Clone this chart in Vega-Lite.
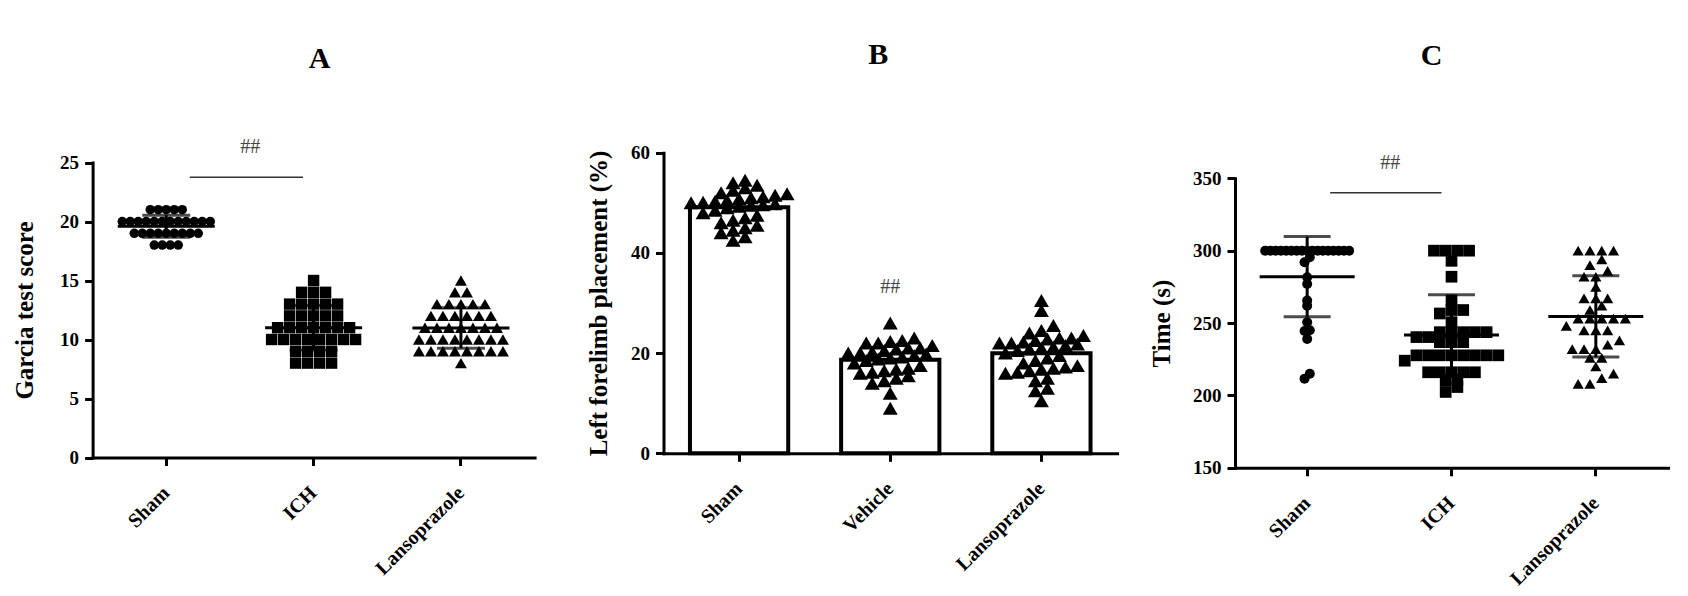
{
  "$schema": "https://vega.github.io/schema/vega-lite/v6.json",
  "width": 1688,
  "height": 596,
  "autosize": {"type": "none"},
  "padding": 0,
  "background": "white",
  "config": {
    "view": {"stroke": null},
    "font": "Liberation Serif",
    "axis": {
      "grid": false,
      "domainColor": "black",
      "domainWidth": 3,
      "domainCap": "square",
      "tickColor": "black",
      "tickWidth": 3,
      "tickSize": 8,
      "labelFont": "Liberation Serif",
      "labelFontWeight": "bold",
      "labelFontSize": 19,
      "labelColor": "black",
      "labelPadding": 6,
      "titleFont": "Liberation Serif",
      "titleFontWeight": "bold",
      "titleFontSize": 25,
      "titleColor": "black"
    },
    "axisX": {
      "labelAngle": -45,
      "labelAlign": "right",
      "labelBaseline": "middle",
      "labelPadding": 24,
      "labelFontSize": 20,
      "labelOverlap": false
    }
  },
  "datasets": {
    "garcia": [
      {"g": "Sham", "v": 18}, {"g": "Sham", "v": 18}, {"g": "Sham", "v": 18}, {"g": "Sham", "v": 18},
      {"g": "Sham", "v": 19}, {"g": "Sham", "v": 19}, {"g": "Sham", "v": 19}, {"g": "Sham", "v": 19}, {"g": "Sham", "v": 19},
      {"g": "Sham", "v": 19}, {"g": "Sham", "v": 19}, {"g": "Sham", "v": 19}, {"g": "Sham", "v": 19},
      {"g": "Sham", "v": 20}, {"g": "Sham", "v": 20}, {"g": "Sham", "v": 20}, {"g": "Sham", "v": 20}, {"g": "Sham", "v": 20}, {"g": "Sham", "v": 20},
      {"g": "Sham", "v": 20}, {"g": "Sham", "v": 20}, {"g": "Sham", "v": 20}, {"g": "Sham", "v": 20}, {"g": "Sham", "v": 20}, {"g": "Sham", "v": 20},
      {"g": "Sham", "v": 21}, {"g": "Sham", "v": 21}, {"g": "Sham", "v": 21}, {"g": "Sham", "v": 21}, {"g": "Sham", "v": 21},
      {"g": "ICH", "v": 15},
      {"g": "ICH", "v": 14}, {"g": "ICH", "v": 14}, {"g": "ICH", "v": 14},
      {"g": "ICH", "v": 13}, {"g": "ICH", "v": 13}, {"g": "ICH", "v": 13}, {"g": "ICH", "v": 13}, {"g": "ICH", "v": 13},
      {"g": "ICH", "v": 12}, {"g": "ICH", "v": 12}, {"g": "ICH", "v": 12}, {"g": "ICH", "v": 12}, {"g": "ICH", "v": 12},
      {"g": "ICH", "v": 11}, {"g": "ICH", "v": 11}, {"g": "ICH", "v": 11}, {"g": "ICH", "v": 11}, {"g": "ICH", "v": 11}, {"g": "ICH", "v": 11}, {"g": "ICH", "v": 11},
      {"g": "ICH", "v": 10}, {"g": "ICH", "v": 10}, {"g": "ICH", "v": 10}, {"g": "ICH", "v": 10}, {"g": "ICH", "v": 10}, {"g": "ICH", "v": 10}, {"g": "ICH", "v": 10}, {"g": "ICH", "v": 10},
      {"g": "ICH", "v": 9}, {"g": "ICH", "v": 9}, {"g": "ICH", "v": 9}, {"g": "ICH", "v": 9},
      {"g": "ICH", "v": 8}, {"g": "ICH", "v": 8}, {"g": "ICH", "v": 8}, {"g": "ICH", "v": 8},
      {"g": "Lansoprazole", "v": 15},
      {"g": "Lansoprazole", "v": 14}, {"g": "Lansoprazole", "v": 14},
      {"g": "Lansoprazole", "v": 13}, {"g": "Lansoprazole", "v": 13}, {"g": "Lansoprazole", "v": 13}, {"g": "Lansoprazole", "v": 13}, {"g": "Lansoprazole", "v": 13},
      {"g": "Lansoprazole", "v": 12}, {"g": "Lansoprazole", "v": 12}, {"g": "Lansoprazole", "v": 12}, {"g": "Lansoprazole", "v": 12}, {"g": "Lansoprazole", "v": 12}, {"g": "Lansoprazole", "v": 12},
      {"g": "Lansoprazole", "v": 11}, {"g": "Lansoprazole", "v": 11}, {"g": "Lansoprazole", "v": 11}, {"g": "Lansoprazole", "v": 11}, {"g": "Lansoprazole", "v": 11}, {"g": "Lansoprazole", "v": 11}, {"g": "Lansoprazole", "v": 11},
      {"g": "Lansoprazole", "v": 10}, {"g": "Lansoprazole", "v": 10}, {"g": "Lansoprazole", "v": 10}, {"g": "Lansoprazole", "v": 10}, {"g": "Lansoprazole", "v": 10}, {"g": "Lansoprazole", "v": 10}, {"g": "Lansoprazole", "v": 10}, {"g": "Lansoprazole", "v": 10},
      {"g": "Lansoprazole", "v": 9}, {"g": "Lansoprazole", "v": 9}, {"g": "Lansoprazole", "v": 9}, {"g": "Lansoprazole", "v": 9}, {"g": "Lansoprazole", "v": 9}, {"g": "Lansoprazole", "v": 9}, {"g": "Lansoprazole", "v": 9}, {"g": "Lansoprazole", "v": 9},
      {"g": "Lansoprazole", "v": 8}
    ],
    "forelimb": [
      {"g": "Sham", "v": 54.5}, {"g": "Sham", "v": 54}, {"g": "Sham", "v": 53.5}, {"g": "Sham", "v": 53}, {"g": "Sham", "v": 52.5}, {"g": "Sham", "v": 52},
      {"g": "Sham", "v": 51.8}, {"g": "Sham", "v": 51.5}, {"g": "Sham", "v": 51.2}, {"g": "Sham", "v": 51}, {"g": "Sham", "v": 50.8}, {"g": "Sham", "v": 50.5},
      {"g": "Sham", "v": 50.3}, {"g": "Sham", "v": 50.1}, {"g": "Sham", "v": 50}, {"g": "Sham", "v": 49.8}, {"g": "Sham", "v": 49.6}, {"g": "Sham", "v": 49.5},
      {"g": "Sham", "v": 49.3}, {"g": "Sham", "v": 49}, {"g": "Sham", "v": 48.5}, {"g": "Sham", "v": 48}, {"g": "Sham", "v": 47.5}, {"g": "Sham", "v": 47},
      {"g": "Sham", "v": 46.5}, {"g": "Sham", "v": 46}, {"g": "Sham", "v": 45.5}, {"g": "Sham", "v": 45}, {"g": "Sham", "v": 44.5}, {"g": "Sham", "v": 44},
      {"g": "Sham", "v": 43.2}, {"g": "Sham", "v": 42.5},
      {"g": "Vehicle", "v": 26}, {"g": "Vehicle", "v": 23}, {"g": "Vehicle", "v": 22.5}, {"g": "Vehicle", "v": 22.3}, {"g": "Vehicle", "v": 22}, {"g": "Vehicle", "v": 22},
      {"g": "Vehicle", "v": 21.5}, {"g": "Vehicle", "v": 21}, {"g": "Vehicle", "v": 21}, {"g": "Vehicle", "v": 20.8}, {"g": "Vehicle", "v": 20.5}, {"g": "Vehicle", "v": 20.2},
      {"g": "Vehicle", "v": 20}, {"g": "Vehicle", "v": 20}, {"g": "Vehicle", "v": 19.8}, {"g": "Vehicle", "v": 19.5}, {"g": "Vehicle", "v": 19.2}, {"g": "Vehicle", "v": 19},
      {"g": "Vehicle", "v": 18.8}, {"g": "Vehicle", "v": 18.5}, {"g": "Vehicle", "v": 18}, {"g": "Vehicle", "v": 17.5}, {"g": "Vehicle", "v": 17}, {"g": "Vehicle", "v": 16.8},
      {"g": "Vehicle", "v": 16.5}, {"g": "Vehicle", "v": 16.2}, {"g": "Vehicle", "v": 16}, {"g": "Vehicle", "v": 15.5}, {"g": "Vehicle", "v": 15}, {"g": "Vehicle", "v": 14.5},
      {"g": "Vehicle", "v": 14}, {"g": "Vehicle", "v": 12}, {"g": "Vehicle", "v": 9},
      {"g": "Lansoprazole", "v": 30.5}, {"g": "Lansoprazole", "v": 28.5}, {"g": "Lansoprazole", "v": 25.5}, {"g": "Lansoprazole", "v": 24.5}, {"g": "Lansoprazole", "v": 24}, {"g": "Lansoprazole", "v": 23.5},
      {"g": "Lansoprazole", "v": 23}, {"g": "Lansoprazole", "v": 23}, {"g": "Lansoprazole", "v": 22.8}, {"g": "Lansoprazole", "v": 22.5}, {"g": "Lansoprazole", "v": 22.2}, {"g": "Lansoprazole", "v": 22},
      {"g": "Lansoprazole", "v": 22}, {"g": "Lansoprazole", "v": 21.8}, {"g": "Lansoprazole", "v": 21.5}, {"g": "Lansoprazole", "v": 21.2}, {"g": "Lansoprazole", "v": 21}, {"g": "Lansoprazole", "v": 20.8},
      {"g": "Lansoprazole", "v": 20.5}, {"g": "Lansoprazole", "v": 20}, {"g": "Lansoprazole", "v": 19.5}, {"g": "Lansoprazole", "v": 19}, {"g": "Lansoprazole", "v": 18.5}, {"g": "Lansoprazole", "v": 18},
      {"g": "Lansoprazole", "v": 17.5}, {"g": "Lansoprazole", "v": 17.2}, {"g": "Lansoprazole", "v": 17}, {"g": "Lansoprazole", "v": 16.8}, {"g": "Lansoprazole", "v": 16.5}, {"g": "Lansoprazole", "v": 16.2},
      {"g": "Lansoprazole", "v": 16}, {"g": "Lansoprazole", "v": 15}, {"g": "Lansoprazole", "v": 14.5}, {"g": "Lansoprazole", "v": 13}, {"g": "Lansoprazole", "v": 12.5}, {"g": "Lansoprazole", "v": 10.5}
    ],
    "time": [
      {"g": "Sham", "v": 300}, {"g": "Sham", "v": 300}, {"g": "Sham", "v": 300}, {"g": "Sham", "v": 300}, {"g": "Sham", "v": 300}, {"g": "Sham", "v": 300},
      {"g": "Sham", "v": 300}, {"g": "Sham", "v": 300}, {"g": "Sham", "v": 300}, {"g": "Sham", "v": 300}, {"g": "Sham", "v": 300}, {"g": "Sham", "v": 300},
      {"g": "Sham", "v": 300}, {"g": "Sham", "v": 300}, {"g": "Sham", "v": 300}, {"g": "Sham", "v": 300}, {"g": "Sham", "v": 300},
      {"g": "Sham", "v": 295.4}, {"g": "Sham", "v": 292}, {"g": "Sham", "v": 281.6}, {"g": "Sham", "v": 277}, {"g": "Sham", "v": 265.6}, {"g": "Sham", "v": 262},
      {"g": "Sham", "v": 250.6}, {"g": "Sham", "v": 245}, {"g": "Sham", "v": 244.5}, {"g": "Sham", "v": 239}, {"g": "Sham", "v": 215}, {"g": "Sham", "v": 211.6},
      {"g": "ICH", "v": 300}, {"g": "ICH", "v": 300}, {"g": "ICH", "v": 300}, {"g": "ICH", "v": 300},
      {"g": "ICH", "v": 293}, {"g": "ICH", "v": 282}, {"g": "ICH", "v": 265.6}, {"g": "ICH", "v": 259}, {"g": "ICH", "v": 259}, {"g": "ICH", "v": 256.6}, {"g": "ICH", "v": 250.6},
      {"g": "ICH", "v": 243.7}, {"g": "ICH", "v": 243.7}, {"g": "ICH", "v": 243.7}, {"g": "ICH", "v": 243.7}, {"g": "ICH", "v": 243.7},
      {"g": "ICH", "v": 240.3}, {"g": "ICH", "v": 240.3},
      {"g": "ICH", "v": 236.8}, {"g": "ICH", "v": 236.8}, {"g": "ICH", "v": 236.8},
      {"g": "ICH", "v": 227.7}, {"g": "ICH", "v": 227.7}, {"g": "ICH", "v": 227.7}, {"g": "ICH", "v": 227.7}, {"g": "ICH", "v": 227.7}, {"g": "ICH", "v": 227.7}, {"g": "ICH", "v": 227.7}, {"g": "ICH", "v": 227.7},
      {"g": "ICH", "v": 224},
      {"g": "ICH", "v": 216}, {"g": "ICH", "v": 216}, {"g": "ICH", "v": 216}, {"g": "ICH", "v": 216}, {"g": "ICH", "v": 216},
      {"g": "ICH", "v": 210.5}, {"g": "ICH", "v": 210.5}, {"g": "ICH", "v": 205.8}, {"g": "ICH", "v": 202.4},
      {"g": "Lansoprazole", "v": 300}, {"g": "Lansoprazole", "v": 300}, {"g": "Lansoprazole", "v": 300}, {"g": "Lansoprazole", "v": 300},
      {"g": "Lansoprazole", "v": 294}, {"g": "Lansoprazole", "v": 290}, {"g": "Lansoprazole", "v": 286}, {"g": "Lansoprazole", "v": 282}, {"g": "Lansoprazole", "v": 282},
      {"g": "Lansoprazole", "v": 275}, {"g": "Lansoprazole", "v": 267}, {"g": "Lansoprazole", "v": 267}, {"g": "Lansoprazole", "v": 267}, {"g": "Lansoprazole", "v": 262},
      {"g": "Lansoprazole", "v": 259}, {"g": "Lansoprazole", "v": 253}, {"g": "Lansoprazole", "v": 253}, {"g": "Lansoprazole", "v": 253}, {"g": "Lansoprazole", "v": 253}, {"g": "Lansoprazole", "v": 253},
      {"g": "Lansoprazole", "v": 248}, {"g": "Lansoprazole", "v": 245}, {"g": "Lansoprazole", "v": 245}, {"g": "Lansoprazole", "v": 245}, {"g": "Lansoprazole", "v": 238}, {"g": "Lansoprazole", "v": 235},
      {"g": "Lansoprazole", "v": 232}, {"g": "Lansoprazole", "v": 232}, {"g": "Lansoprazole", "v": 232}, {"g": "Lansoprazole", "v": 226}, {"g": "Lansoprazole", "v": 226},
      {"g": "Lansoprazole", "v": 220}, {"g": "Lansoprazole", "v": 215}, {"g": "Lansoprazole", "v": 212}, {"g": "Lansoprazole", "v": 208}, {"g": "Lansoprazole", "v": 208}
    ],
    "notes": [
      {"panel": "A", "g": "Sham", "g2": "ICH", "level": 23.75, "label": "##"},
      {"panel": "B", "g": "Vehicle", "g2": "Vehicle", "level": 33.2, "label": "##"},
      {"panel": "C", "g": "Sham", "g2": "ICH", "level": 340, "label": "##"}
    ]
  },
  "layer": [
    {
      "data": {"name": "garcia"},
      "encoding": {
        "x": {
          "field": "g", "type": "nominal",
          "scale": {"domain": ["Sham", "ICH", "Lansoprazole"], "range": [92.6, 534.6], "paddingInner": 0, "paddingOuter": 0},
          "axis": {"orient": "bottom", "offset": -138.5, "title": null}
        },
        "y": {
          "field": "v", "type": "quantitative",
          "scale": {"domain": [0, 25], "range": [457.5, 162.5], "nice": false, "zero": false},
          "axis": {"orient": "left", "offset": -92.6, "values": [0, 5, 10, 15, 20, 25], "title": "Garcia test score", "titleX": -68.6, "titleBaseline": "middle"}
        }
      },
      "layer": [
        {
          "transform": [
            {"filter": {"field": "g", "equal": "Sham"}},
            {"window": [{"op": "row_number", "as": "rk"}, {"op": "count", "as": "n"}], "groupby": ["v"], "sort": [{"field": "v"}], "frame": [null, null]},
            {"calculate": "datum.rk - (datum.n + 1) / 2", "as": "off"}
          ],
          "mark": {"type": "point", "shape": "circle", "filled": true, "size": 90, "color": "black", "opacity": 1},
          "encoding": {"xOffset": {"field": "off", "type": "quantitative", "scale": {"domain": [-6, 6], "range": [25.67, 121.67], "nice": false, "zero": false}}}
        },
        {
          "transform": [
            {"filter": {"field": "g", "equal": "ICH"}},
            {"window": [{"op": "row_number", "as": "rk"}, {"op": "count", "as": "n"}], "groupby": ["v"], "sort": [{"field": "v"}], "frame": [null, null]},
            {"calculate": "datum.rk - (datum.n + 1) / 2", "as": "off"}
          ],
          "mark": {"type": "point", "shape": "square", "filled": true, "size": 130, "color": "black", "opacity": 1},
          "encoding": {"xOffset": {"field": "off", "type": "quantitative", "scale": {"domain": [-6, 6], "range": [1.67, 145.67], "nice": false, "zero": false}}}
        },
        {
          "transform": [
            {"filter": {"field": "g", "equal": "Lansoprazole"}},
            {"window": [{"op": "row_number", "as": "rk"}, {"op": "count", "as": "n"}], "groupby": ["v"], "sort": [{"field": "v"}], "frame": [null, null]},
            {"calculate": "datum.rk - (datum.n + 1) / 2", "as": "off"}
          ],
          "mark": {"type": "point", "shape": "triangle-up", "filled": true, "size": 144, "color": "black", "opacity": 1},
          "encoding": {"xOffset": {"field": "off", "type": "quantitative", "scale": {"domain": [-6, 6], "range": [1.67, 145.67], "nice": false, "zero": false}}}
        },
        {
          "mark": {"type": "errorbar", "extent": "stdev", "ticks": true, "size": 48, "thickness": 3, "color": "black"},
          "encoding": {"y": {"field": "v", "type": "quantitative", "title": "Garcia test score"}}
        },
        {
          "mark": {"type": "tick", "size": 97, "thickness": 3, "color": "black"},
          "encoding": {"y": {"aggregate": "mean", "field": "v", "type": "quantitative", "title": "Garcia test score"}}
        },
        {
          "data": {"name": "notes"},
          "transform": [{"filter": {"field": "panel", "equal": "A"}}],
          "mark": {"type": "rule", "color": "#333333", "strokeWidth": 1.5, "xOffset": 23.5, "x2Offset": -10.5},
          "encoding": {"x": {"field": "g", "type": "nominal"}, "x2": {"field": "g2"}, "y": {"field": "level", "type": "quantitative"}}
        },
        {
          "data": {"name": "notes"},
          "transform": [{"filter": {"field": "panel", "equal": "A"}}],
          "mark": {"type": "text", "fontSize": 20, "color": "#444444", "dx": 84, "dy": -30, "baseline": "middle"},
          "encoding": {"x": {"field": "g", "type": "nominal"}, "y": {"field": "level", "type": "quantitative"}, "text": {"field": "label"}}
        },
        {
          "transform": [
            {"filter": {"field": "g", "equal": "ICH"}},
            {"aggregate": [{"op": "max", "field": "v", "as": "top"}], "groupby": ["g"]}
          ],
          "mark": {"type": "text", "text": "A", "fontSize": 30, "fontWeight": "bold", "color": "black", "dx": 6, "dy": -222, "baseline": "middle"},
          "encoding": {"y": {"field": "top", "type": "quantitative"}}
        }
      ],
      "resolve": {"scale": {"xOffset": "independent"}}
    },
    {
      "data": {"name": "forelimb"},
      "encoding": {
        "x": {
          "field": "g", "type": "nominal",
          "scale": {"domain": ["Sham", "Vehicle", "Lansoprazole"], "range": [663.5, 1117], "paddingInner": 0.35, "paddingOuter": 0.175},
          "axis": {"orient": "bottom", "offset": -142.7, "title": null}
        },
        "y": {
          "field": "v", "type": "quantitative",
          "scale": {"domain": [0, 60], "range": [453.3, 152.7], "nice": false, "zero": false},
          "axis": {"orient": "left", "offset": -663.5, "values": [0, 20, 40, 60], "title": "Left forelimb placement (%)", "titleX": -65.5, "titleBaseline": "middle"}
        }
      },
      "layer": [
        {
          "mark": {"type": "bar", "fill": "white", "stroke": "black", "strokeWidth": 4},
          "encoding": {"y": {"aggregate": "mean", "field": "v", "type": "quantitative", "title": "Left forelimb placement (%)"}}
        },
        {
          "transform": [
            {"bin": {"step": 2}, "field": "v", "as": "vb"},
            {"window": [{"op": "row_number", "as": "rk"}, {"op": "count", "as": "n"}], "groupby": ["g", "vb"], "sort": [{"field": "v"}], "frame": [null, null]},
            {"calculate": "datum.rk - (datum.n + 1) / 2", "as": "off"}
          ],
          "mark": {"type": "point", "shape": "triangle-up", "filled": true, "size": 225, "color": "black", "opacity": 1},
          "encoding": {"xOffset": {"field": "off", "type": "quantitative", "scale": {"domain": [-8, 8], "range": [-46.87, 145.13], "nice": false, "zero": false}}}
        },
        {
          "data": {"name": "notes"},
          "transform": [{"filter": {"field": "panel", "equal": "B"}}],
          "mark": {"type": "text", "fontSize": 20, "color": "#444444", "baseline": "middle"},
          "encoding": {"x": {"field": "g", "type": "nominal"}, "y": {"field": "level", "type": "quantitative"}, "text": {"field": "label"}}
        },
        {
          "transform": [
            {"filter": {"field": "g", "equal": "Vehicle"}},
            {"aggregate": [{"op": "max", "field": "v", "as": "top"}], "groupby": ["g"]}
          ],
          "mark": {"type": "text", "text": "B", "fontSize": 30, "fontWeight": "bold", "color": "black", "dx": -12, "dy": -268, "baseline": "middle"},
          "encoding": {"y": {"field": "top", "type": "quantitative"}}
        }
      ],
      "resolve": {"scale": {"xOffset": "independent"}}
    },
    {
      "data": {"name": "time"},
      "encoding": {
        "x": {
          "field": "g", "type": "nominal",
          "scale": {"domain": ["Sham", "ICH", "Lansoprazole"], "range": [1235, 1668], "paddingInner": 0, "paddingOuter": 0},
          "axis": {"orient": "bottom", "offset": -128.2, "title": null}
        },
        "y": {
          "field": "v", "type": "quantitative",
          "scale": {"domain": [150, 350], "range": [467.8, 178.3], "nice": false, "zero": false},
          "axis": {"orient": "left", "offset": -1235, "values": [150, 200, 250, 300, 350], "title": "Time (s)", "titleX": -74, "titleBaseline": "middle"}
        }
      },
      "layer": [
        {
          "transform": [
            {"filter": {"field": "g", "equal": "Sham"}},
            {"bin": {"step": 8}, "field": "v", "as": "vb"},
            {"window": [{"op": "row_number", "as": "rk"}, {"op": "count", "as": "n"}], "groupby": ["vb"], "sort": [{"field": "v"}], "frame": [null, null]},
            {"calculate": "datum.rk - (datum.n + 1) / 2", "as": "off"}
          ],
          "mark": {"type": "point", "shape": "circle", "filled": true, "size": 100, "color": "black", "opacity": 1},
          "encoding": {"xOffset": {"field": "off", "type": "quantitative", "scale": {"domain": [-9, 9], "range": [24.92, 119.42], "nice": false, "zero": false}}}
        },
        {
          "transform": [
            {"filter": {"field": "g", "equal": "ICH"}},
            {"bin": {"step": 8}, "field": "v", "as": "vb"},
            {"window": [{"op": "row_number", "as": "rk"}, {"op": "count", "as": "n"}], "groupby": ["vb"], "sort": [{"field": "v"}], "frame": [null, null]},
            {"calculate": "datum.rk - (datum.n + 1) / 2", "as": "off"}
          ],
          "mark": {"type": "point", "shape": "square", "filled": true, "size": 137, "color": "black", "opacity": 1},
          "encoding": {"xOffset": {"field": "off", "type": "quantitative", "scale": {"domain": [-6, 6], "range": [2.0, 142.37], "nice": false, "zero": false}}}
        },
        {
          "transform": [
            {"filter": {"field": "g", "equal": "Lansoprazole"}},
            {"bin": {"step": 8}, "field": "v", "as": "vb"},
            {"window": [{"op": "row_number", "as": "rk"}, {"op": "count", "as": "n"}], "groupby": ["vb"], "sort": [{"field": "v"}], "frame": [null, null]},
            {"calculate": "datum.rk - (datum.n + 1) / 2", "as": "off"}
          ],
          "mark": {"type": "point", "shape": "triangle-up", "filled": true, "size": 125, "color": "black", "opacity": 1},
          "encoding": {"xOffset": {"field": "off", "type": "quantitative", "scale": {"domain": [-6, 6], "range": [1.37, 142.97], "nice": false, "zero": false}}}
        },
        {
          "mark": {"type": "errorbar", "extent": "stdev", "ticks": true, "size": 47, "thickness": 3, "color": "black"},
          "encoding": {"y": {"field": "v", "type": "quantitative", "title": "Time (s)"}}
        },
        {
          "mark": {"type": "tick", "size": 95, "thickness": 3, "color": "black"},
          "encoding": {"y": {"aggregate": "mean", "field": "v", "type": "quantitative", "title": "Time (s)"}}
        },
        {
          "data": {"name": "notes"},
          "transform": [{"filter": {"field": "panel", "equal": "C"}}],
          "mark": {"type": "rule", "color": "#333333", "strokeWidth": 1.5, "xOffset": 23, "x2Offset": -10},
          "encoding": {"x": {"field": "g", "type": "nominal"}, "x2": {"field": "g2"}, "y": {"field": "level", "type": "quantitative"}}
        },
        {
          "data": {"name": "notes"},
          "transform": [{"filter": {"field": "panel", "equal": "C"}}],
          "mark": {"type": "text", "fontSize": 20, "color": "#444444", "dx": 83, "dy": -30, "baseline": "middle"},
          "encoding": {"x": {"field": "g", "type": "nominal"}, "y": {"field": "level", "type": "quantitative"}, "text": {"field": "label"}}
        },
        {
          "transform": [
            {"filter": {"field": "g", "equal": "ICH"}},
            {"aggregate": [{"op": "max", "field": "v", "as": "top"}], "groupby": ["g"]}
          ],
          "mark": {"type": "text", "text": "C", "fontSize": 30, "fontWeight": "bold", "color": "black", "dx": -20, "dy": -195, "baseline": "middle"},
          "encoding": {"y": {"field": "top", "type": "quantitative"}}
        }
      ],
      "resolve": {"scale": {"xOffset": "independent"}}
    }
  ],
  "resolve": {
    "scale": {"x": "independent", "y": "independent", "xOffset": "independent"},
    "axis": {"x": "independent", "y": "independent"}
  }
}
